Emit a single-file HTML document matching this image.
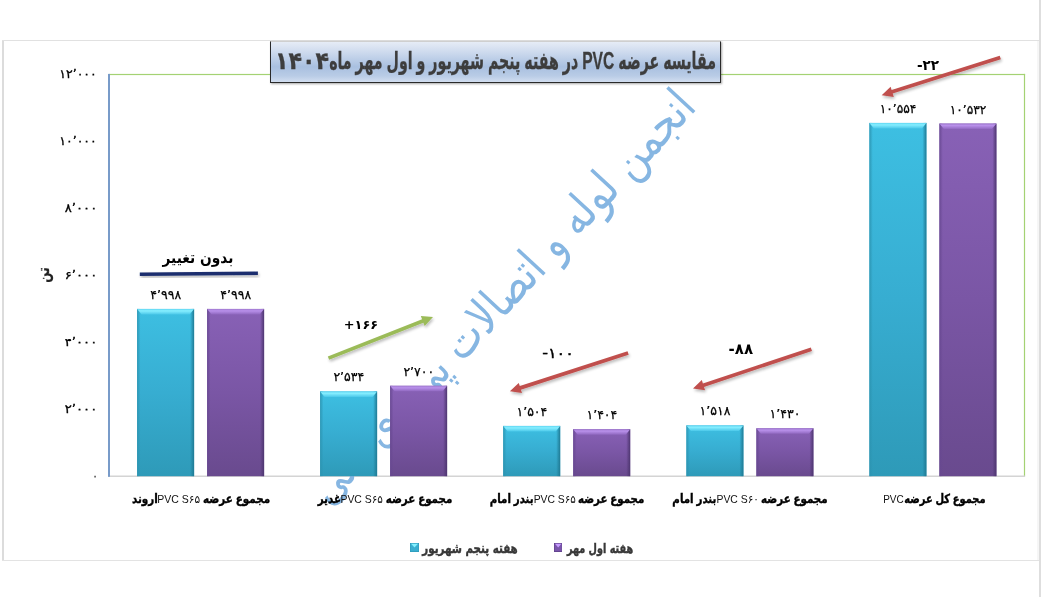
<!DOCTYPE html>
<html lang="fa">
<head>
<meta charset="utf-8">
<title>مقایسه عرضه PVC</title>
<style>
html,body{margin:0;padding:0;background:#fff}
body{width:1041px;height:597px;position:relative;overflow:hidden;font-family:"Liberation Sans","DejaVu Sans",sans-serif;color:#000}
#chart{position:absolute;left:0;top:0;width:1041px;height:597px;overflow:hidden}
svg{position:absolute;left:0;top:0}
.ln{position:absolute;background:#dcdcdc}
.t{position:absolute;white-space:nowrap;line-height:1.25;font-family:"DejaVu Sans",sans-serif}
.dl{font-size:12.5px;direction:ltr;unicode-bidi:bidi-override;-webkit-text-stroke:0.25px #000}
.yl{font-size:11.5px;direction:ltr;unicode-bidi:bidi-override;-webkit-text-stroke:0.3px #000}
.cat{direction:rtl;font-family:"Liberation Sans","DejaVu Sans",sans-serif;font-weight:bold;font-size:12.5px;-webkit-text-stroke:0.4px #000}
.cat span{display:inline-block;font-weight:normal;font-size:11.5px;-webkit-text-stroke:0 transparent;color:#111;transform:scaleX(1.1);margin:0 2px}
.chg{font-weight:bold;font-size:13px;direction:ltr;unicode-bidi:bidi-override}
.ttl{position:absolute;left:270.2px;top:40.5px;width:448.6px;height:40.3px;border:1px solid #2a2a2a;border-top-color:#cfcfcf;background:linear-gradient(#e6ecf6 0%,#c9d7ec 30%,#a9c0e0 62%,#b9cce6 85%,#d2def0 100%);box-shadow:1px 1px 2px rgba(0,0,0,.35)}
.ttxt{direction:rtl;font-family:"Liberation Sans","DejaVu Sans",sans-serif;font-weight:bold;font-size:24px;color:#3d3d3d;-webkit-text-stroke:0.3px #3d3d3d}
.ttxt span{display:inline-block;transform-origin:50% 50%}
.ttxt .dg{transform:scaleX(1.56);margin:0 16.5px 0 18px}
.ttxt .lat{transform:scaleX(1.1);margin:0 2.5px}
.wm{direction:rtl;font-size:48px;color:#86b6e2}
.nochg{direction:rtl;font-weight:bold;font-size:15.5px}
.ytitle{direction:rtl;font-weight:bold;font-size:16px;color:#222;-webkit-text-stroke:0.3px #222}
.leg{direction:rtl;font-weight:bold;font-size:13.5px;color:#383838;-webkit-text-stroke:0.45px #383838}
.sw{position:absolute;top:543px}
</style>
</head>
<body>
<div id="chart">
<div class="ln" style="left:2.4px;top:39.5px;width:1.4px;height:521.5px"></div>
<div class="ln" style="left:2.4px;top:39.5px;width:1038px;height:1.1px;background:#e1e1e1"></div>
<div class="ln" style="left:2.4px;top:559.8px;width:1038px;height:1.1px;background:#e3e3e3"></div>
<div class="ln" style="left:1039.2px;top:0;width:2px;height:597px;background:#dedede"></div>
<div class="ln" style="left:1037px;top:40.5px;width:2.2px;height:519.5px;background:#f6f6f6"></div>
<svg width="1041" height="597" viewBox="0 0 1041 597">
<rect x="109" y="73.9" width="916.1" height="1.2" fill="#a4d273"/>
<rect x="1023.9" y="73.9" width="1.2" height="402.3" fill="#a4d273"/>
<rect x="108" y="475.5" width="917.1" height="1.5" fill="#d4d4d4"/>
<rect x="108" y="73.9" width="2" height="402.9" fill="#789bc9"/>
</svg>
<div id="t31" class="t wm" style="left:500.6px;top:295.9px;transform:translate(-50%,-50%) rotate(-47.2deg) scaleX(0.815)">انجمن لوله و اتصالات پی وی سی</div>
<svg width="1041" height="597" viewBox="0 0 1041 597">
<defs>
<linearGradient id="gc" x1="0" y1="0" x2="0" y2="1"><stop offset="0" stop-color="#3dbfe2"/><stop offset="0.5" stop-color="#37add1"/><stop offset="1" stop-color="#2e9ab8"/></linearGradient>
<linearGradient id="gp" x1="0" y1="0" x2="0" y2="1"><stop offset="0" stop-color="#8861b6"/><stop offset="0.5" stop-color="#7a56a5"/><stop offset="1" stop-color="#694a8e"/></linearGradient>
<linearGradient id="sc" x1="0" y1="0" x2="1" y2="0"><stop offset="0" stop-color="#2b93b0" stop-opacity=".9"/><stop offset="0.06" stop-color="#2b93b0" stop-opacity="0"/><stop offset="0.93" stop-color="#1f7a94" stop-opacity="0"/><stop offset="1" stop-color="#1f7a94" stop-opacity="1"/></linearGradient>
<linearGradient id="sp" x1="0" y1="0" x2="1" y2="0"><stop offset="0" stop-color="#664790" stop-opacity=".9"/><stop offset="0.06" stop-color="#664790" stop-opacity="0"/><stop offset="0.93" stop-color="#4e3670" stop-opacity="0"/><stop offset="1" stop-color="#4e3670" stop-opacity="1"/></linearGradient>
<linearGradient id="tc" x1="0" y1="0" x2="0" y2="1"><stop offset="0" stop-color="#5fd6f2"/><stop offset="0.35" stop-color="#86eeff"/><stop offset="1" stop-color="#4cc9ea"/></linearGradient>
<linearGradient id="tp" x1="0" y1="0" x2="0" y2="1"><stop offset="0" stop-color="#a078cf"/><stop offset="0.35" stop-color="#b890ea"/><stop offset="1" stop-color="#9068c0"/></linearGradient>
<filter id="sh" x="-10%" y="-30%" width="120%" height="160%"><feGaussianBlur in="SourceAlpha" stdDeviation="1.4"/><feOffset dx="0.5" dy="1.6" result="b"/><feComponentTransfer><feFuncA type="linear" slope="0.28"/></feComponentTransfer><feMerge><feMergeNode/><feMergeNode in="SourceGraphic"/></feMerge></filter>
</defs>
<g transform="translate(137.1,308.9)"><rect width="57" height="167.3" fill="url(#gc)"/><rect width="57" height="167.3" fill="url(#sc)"/><polygon points="0,0 57,0 52.5,5.5 4.5,5.5" fill="url(#tc)"/></g>
<g transform="translate(207.1,308.9)"><rect width="57" height="167.3" fill="url(#gp)"/><rect width="57" height="167.3" fill="url(#sp)"/><polygon points="0,0 57,0 52.5,5.5 4.5,5.5" fill="url(#tp)"/></g>
<g transform="translate(320.1,391.4)"><rect width="57" height="84.8" fill="url(#gc)"/><rect width="57" height="84.8" fill="url(#sc)"/><polygon points="0,0 57,0 52.5,5.5 4.5,5.5" fill="url(#tc)"/></g>
<g transform="translate(390.1,385.8)"><rect width="57" height="90.4" fill="url(#gp)"/><rect width="57" height="90.4" fill="url(#sp)"/><polygon points="0,0 57,0 52.5,5.5 4.5,5.5" fill="url(#tp)"/></g>
<g transform="translate(503.2,425.9)"><rect width="57" height="50.3" fill="url(#gc)"/><rect width="57" height="50.3" fill="url(#sc)"/><polygon points="0,0 57,0 52.5,5.5 4.5,5.5" fill="url(#tc)"/></g>
<g transform="translate(573.2,429.2)"><rect width="57" height="47.0" fill="url(#gp)"/><rect width="57" height="47.0" fill="url(#sp)"/><polygon points="0,0 57,0 52.5,5.5 4.5,5.5" fill="url(#tp)"/></g>
<g transform="translate(686.4,425.4)"><rect width="57" height="50.8" fill="url(#gc)"/><rect width="57" height="50.8" fill="url(#sc)"/><polygon points="0,0 57,0 52.5,5.5 4.5,5.5" fill="url(#tc)"/></g>
<g transform="translate(756.4,428.3)"><rect width="57" height="47.9" fill="url(#gp)"/><rect width="57" height="47.9" fill="url(#sp)"/><polygon points="0,0 57,0 52.5,5.5 4.5,5.5" fill="url(#tp)"/></g>
<g transform="translate(869.4,122.9)"><rect width="57" height="353.3" fill="url(#gc)"/><rect width="57" height="353.3" fill="url(#sc)"/><polygon points="0,0 57,0 52.5,5.5 4.5,5.5" fill="url(#tc)"/></g>
<g transform="translate(939.4,123.6)"><rect width="57" height="352.6" fill="url(#gp)"/><rect width="57" height="352.6" fill="url(#sp)"/><polygon points="0,0 57,0 52.5,5.5 4.5,5.5" fill="url(#tp)"/></g>
<polygon points="139.8,272.6 257.9,271.6 257.9,275.0 139.8,276.0" fill="#1c2f6e" filter="url(#sh)"/>
<polygon points="329.2,359.8 423.4,322.7 424.7,326.0 433.0,317.0 420.8,316.1 422.1,319.3 327.8,356.4" fill="#9bbb59" filter="url(#sh)"/>
<polygon points="627.5,351.2 519.8,386.1 518.7,382.9 509.9,391.3 522.0,393.0 520.9,389.7 628.7,354.8" fill="#c0504d" filter="url(#sh)"/>
<polygon points="810.8,347.5 702.9,383.4 701.8,380.1 693.0,388.6 705.1,390.2 704.0,386.9 812.0,351.1" fill="#c0504d" filter="url(#sh)"/>
<polygon points="999.7,55.7 891.6,90.1 890.6,86.8 881.7,95.2 893.8,96.9 892.7,93.6 1000.9,59.3" fill="#c0504d" filter="url(#sh)"/>
</svg>
<div class="ttl"></div>
<div id="t0" class="t dl" style="left:165.7px;top:294.9px;transform:translate(-50%,-50%) scaleX(1.000)">۴’۹۹۸</div>
<div id="t1" class="t dl" style="left:235.7px;top:294.9px;transform:translate(-50%,-50%) scaleX(1.000)">۴’۹۹۸</div>
<div id="t2" class="t dl" style="left:348.8px;top:377.4px;transform:translate(-50%,-50%) scaleX(1.000)">۲’۵۳۴</div>
<div id="t3" class="t dl" style="left:418.8px;top:371.8px;transform:translate(-50%,-50%) scaleX(1.000)">۲’۷۰۰</div>
<div id="t4" class="t dl" style="left:531.9px;top:411.9px;transform:translate(-50%,-50%) scaleX(1.000)">۱’۵۰۴</div>
<div id="t5" class="t dl" style="left:601.9px;top:415.2px;transform:translate(-50%,-50%) scaleX(1.000)">۱’۴۰۴</div>
<div id="t6" class="t dl" style="left:715.0px;top:411.4px;transform:translate(-50%,-50%) scaleX(1.000)">۱’۵۱۸</div>
<div id="t7" class="t dl" style="left:785.0px;top:414.3px;transform:translate(-50%,-50%) scaleX(1.000)">۱’۴۳۰</div>
<div id="t8" class="t dl" style="left:898.0px;top:108.9px;transform:translate(-50%,-50%) scaleX(0.974)">۱۰’۵۵۴</div>
<div id="t9" class="t dl" style="left:968.0px;top:109.6px;transform:translate(-50%,-50%) scaleX(0.974)">۱۰’۵۳۲</div>
<div id="t10" class="t cat" style="left:200.5px;top:499.9px;transform:translate(-50%,-50%) scaleX(0.830)">مجموع عرضه <span>PVC S۶۵</span>اروند</div>
<div id="t11" class="t cat" style="left:384.7px;top:499.9px;transform:translate(-50%,-50%) scaleX(0.823)">مجموع عرضه <span>PVC S۶۵</span>غدیر</div>
<div id="t12" class="t cat" style="left:566.8px;top:499.9px;transform:translate(-50%,-50%) scaleX(0.818)">مجموع عرضه <span>PVC S۶۵</span>بندر امام</div>
<div id="t13" class="t cat" style="left:750.1px;top:499.9px;transform:translate(-50%,-50%) scaleX(0.822)">مجموع عرضه <span>PVC S۶۰</span>بندر امام</div>
<div id="t14" class="t cat" style="left:933.7px;top:499.9px;transform:translate(-50%,-50%) scaleX(0.789)">مجموع کل عرضه<span>PVC</span></div>
<div id="t15" class="t yl" style="left:94.8px;top:475.9px;transform:translate(-50%,-50%) scaleX(0.667)">۰</div>
<div id="t16" class="t yl" style="left:80.8px;top:408.9px;transform:translate(-50%,-50%) scaleX(1.143)">۲’۰۰۰</div>
<div id="t17" class="t yl" style="left:80.8px;top:342.0px;transform:translate(-50%,-50%) scaleX(1.143)">۴’۰۰۰</div>
<div id="t18" class="t yl" style="left:80.8px;top:275.1px;transform:translate(-50%,-50%) scaleX(1.143)">۶’۰۰۰</div>
<div id="t19" class="t yl" style="left:80.8px;top:208.1px;transform:translate(-50%,-50%) scaleX(1.143)">۸’۰۰۰</div>
<div id="t20" class="t yl" style="left:77.8px;top:141.1px;transform:translate(-50%,-50%) scaleX(1.086)">۱۰’۰۰۰</div>
<div id="t21" class="t yl" style="left:77.8px;top:74.2px;transform:translate(-50%,-50%) scaleX(1.086)">۱۲’۰۰۰</div>
<div id="t22" class="t ytitle" style="left:44.2px;top:274.5px;transform:translate(-50%,-50%) rotate(-90deg) scaleX(0.750)">تن</div>
<div id="t23" class="t nochg" style="left:198.0px;top:258.6px;transform:translate(-50%,-50%) scaleX(0.887)">بدون تغییر</div>
<div id="t24" class="t chg" style="left:361.0px;top:324.6px;transform:translate(-50%,-50%) scaleX(1.030);font-size:12.5px">+۱۶۶</div>
<div id="t25" class="t chg" style="left:557.9px;top:353.6px;transform:translate(-50%,-50%) scaleX(1.143);font-size:14px;font-weight:normal;-webkit-text-stroke:0.4px #000">-۱۰۰</div>
<div id="t26" class="t chg" style="left:740.9px;top:348.9px;transform:translate(-50%,-50%) scaleX(1.000);font-size:15px">-۸۸</div>
<div id="t27" class="t chg" style="left:928.4px;top:65.0px;transform:translate(-50%,-50%) scaleX(0.938);font-size:14.5px">-۲۲</div>
<div id="t28" class="t ttxt" style="left:495.0px;top:60.6px;transform:translate(-50%,-50%) scaleX(0.592)">مقایسه عرضه <span class="lat">PVC</span> در هفته پنجم شهریور و اول مهر ماه<span class="dg">۱۴۰۴</span></div>
<div id="t29" class="t leg" style="left:470.0px;top:548.2px;transform:translate(-50%,-50%) scaleX(0.764)">هفته پنجم شهریور</div>
<div id="t30" class="t leg" style="left:599.7px;top:548.2px;transform:translate(-50%,-50%) scaleX(0.715)">هفته اول مهر</div>
<svg class="sw" style="left:410px" width="9" height="9" viewBox="0 0 9 9"><rect width="9" height="9" fill="#2f9cbb"/><rect x="0.6" y="0.6" width="7.8" height="7.6" fill="#3aaed0"/><polygon points="1,0.8 8,0.8 4.5,4.6" fill="#84f0ff"/></svg>
<svg class="sw" style="left:554px" width="8.4" height="9" viewBox="0 0 8.4 9"><rect width="8.4" height="9" fill="#5f4089"/><rect x="0.6" y="0.6" width="7.2" height="7.6" fill="#7a55ab"/><polygon points="1,0.8 7.4,0.8 4.2,4.6" fill="#c79cff"/></svg>
</div>
</body>
</html>
